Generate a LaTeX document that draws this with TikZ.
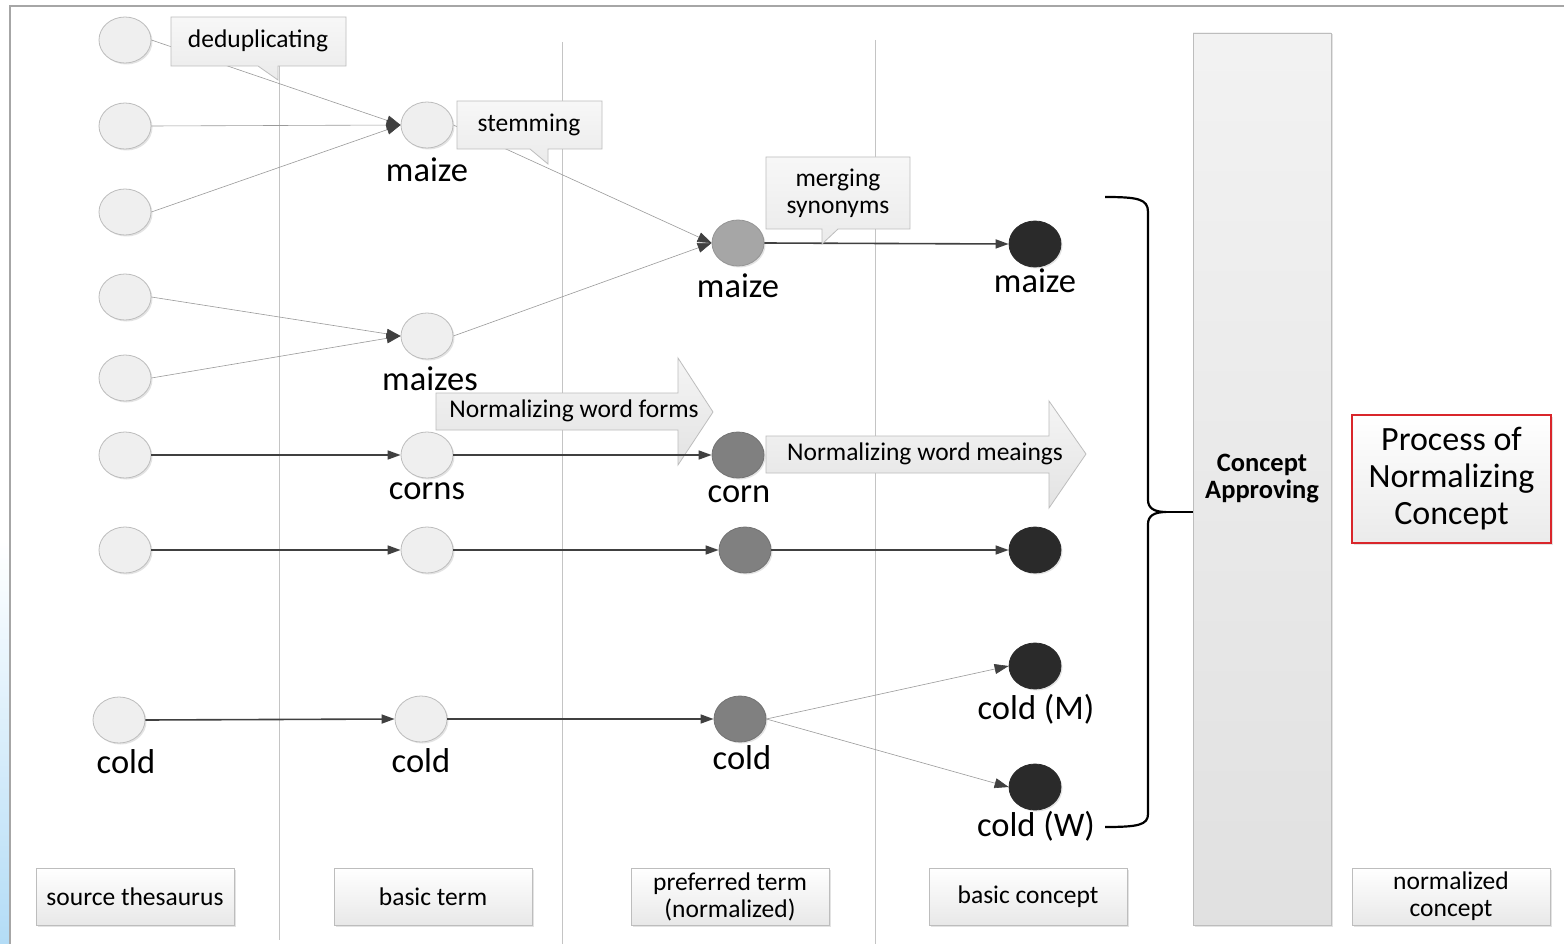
\documentclass[tikz,border=0pt]{standalone}
\usepackage{fontspec}
\setmainfont{Carlito}
\usetikzlibrary{shapes.geometric,arrows.meta,shadows}

\definecolor{framegray}{HTML}{A6A6A6}
\definecolor{sepgray}{HTML}{C4C4C4}
\definecolor{boxborder}{HTML}{BDBDBD}
\definecolor{edgedark}{HTML}{404040}
\definecolor{thinline}{HTML}{9A9A9A}
\definecolor{termfill}{HTML}{EFEFEF}
\definecolor{prefA}{HTML}{A6A6A6}
\definecolor{prefB}{HTML}{808080}
\definecolor{conceptfill}{HTML}{2A2A2A}
\definecolor{redborder}{HTML}{D9262B}
\definecolor{edgeblue}{HTML}{B3DCF6}

\tikzset{
  softshadow/.style={drop shadow={opacity=0.22,shadow xshift=1.5pt,shadow yshift=-1.5pt}},
  termnode/.style={ellipse,minimum width=52pt,minimum height=46pt,inner sep=0pt,
    fill=termfill,draw=boxborder,line width=0.8pt,softshadow},
  prefnode/.style={termnode,fill=prefB,draw=prefB!90!black},
  prefnodelight/.style={termnode,fill=prefA,draw=prefA!90!black},
  conceptnode/.style={termnode,fill=conceptfill,draw=conceptfill},
  wordlabel/.style={inner sep=0pt,font=\fontsize{34.5}{39}\selectfont},
  thinedge/.style={draw=thinline,line width=0.6pt,
    -{Triangle[length=14pt,width=10pt,color=edgedark]}},
  thickedge/.style={draw=edgedark,line width=1.6pt,
    -{Triangle[length=13pt,width=9pt]}},
  calloutshape/.style={draw=boxborder,line width=0.8pt,top color=white!97!black,bottom color=white!92!black},
  callouttext/.style={inner sep=0pt,align=center,font=\fontsize{25.5}{27}\selectfont},
  bigarrow/.style={draw=boxborder,line width=0.8pt,top color=white!96!black,bottom color=white!89!black},
  colbox/.style={draw=boxborder,line width=0.8pt,top color=white,bottom color=white!91!black,
    minimum width=198pt,minimum height=57pt,inner sep=0pt,align=center,
    font=\fontsize{25.5}{27}\selectfont,softshadow},
  separator/.style={draw=sepgray,line width=0.7pt},
}

\begin{document}
\begin{tikzpicture}[x=1pt,y=-1pt]
\useasboundingbox (0,0) rectangle (1564,944);
\fill[white] (0,0) rectangle (1564,944);

% blue fade on the left margin
\shade[top color=white,bottom color=edgeblue] (0,540) rectangle (9,944);

% frame
\draw[framegray,line width=1.3pt] (10,944) -- (10,6) -- (1564,6);

% column separators
\draw[separator] (279,40) -- (279,940);
\draw[separator] (562,42) -- (562,944);
\draw[separator] (875,40) -- (875,944);

% process arrows (behind the term connectors)
\draw[bigarrow] (436,393) -- (678,393) -- (678,358) -- (713,412) -- (678,465) -- (678,430) -- (436,430) -- cycle;
\node[callouttext] (formsarrow) at (574,411) {Normalizing word forms};
\draw[bigarrow] (766,436) -- (1049,436) -- (1049,401) -- (1086,454) -- (1049,508) -- (1049,473) -- (766,473) -- cycle;
\node[callouttext] (meaningsarrow) at (925,454) {Normalizing word meaings};

% source thesaurus terms
\node[termnode] (s1) at (125,40) {};
\node[termnode] (s2) at (125,126) {};
\node[termnode] (s3) at (125,212) {};
\node[termnode] (s4) at (125,297) {};
\node[termnode] (s5) at (125,378) {};
\node[termnode] (s6) at (125,455) {};
\node[termnode] (s7) at (125,550) {};
\node[termnode] (s8) at (119,720) {};

% basic terms
\node[termnode] (b1) at (427,125) {};
\node[termnode] (b2) at (427,336) {};
\node[termnode] (b3) at (427,455) {};
\node[termnode] (b4) at (427,550) {};
\node[termnode] (b5) at (421,719) {};

% preferred terms
\node[prefnodelight] (p1) at (738,243) {};
\node[prefnode] (p2) at (738,455) {};
\node[prefnode] (p3) at (745,550) {};
\node[prefnode] (p4) at (740,719) {};

% basic concepts
\node[conceptnode] (c1) at (1035,244) {};
\node[conceptnode] (c2) at (1035,550) {};
\node[conceptnode] (c3) at (1035,666) {};
\node[conceptnode] (c4) at (1035,787) {};

% term labels
\node[wordlabel] (lb1) at (427,170) {maize};
\node[wordlabel] (lb2) at (430,379) {maizes};
\node[wordlabel] (lb3) at (427,491) {corns};
\node[wordlabel] (ls8) at (126,762) {cold};
\node[wordlabel] (lb5) at (421,761) {cold};
\node[wordlabel] (lp1) at (738,286) {maize};
\node[wordlabel] (lp2) at (739,494) {corn};
\node[wordlabel] (lp4) at (742,758) {cold};
\node[wordlabel] (lc1) at (1035,281) {maize};
\node[wordlabel] (lc3) at (1036,709) {cold (M)};
\node[wordlabel] (lc4) at (1036,826) {cold (W)};

% connectors
\draw[thinedge] (s1.east) -- (b1.west);
\draw[thinedge] (s2.east) -- (b1.west);
\draw[thinedge] (s3.east) -- (b1.west);
\draw[thinedge] (s4.east) -- (b2.west);
\draw[thinedge] (s5.east) -- (b2.west);
\draw[thinedge] (b1.east) -- (p1.west);
\draw[thinedge] (b2.east) -- (p1.west);
\draw[thickedge] (p1.east) -- (c1.west);
\draw[thickedge] (s6.east) -- (b3.west);
\draw[thickedge] (b3.east) -- (p2.west);
\draw[thickedge] (s7.east) -- (b4.west);
\draw[thickedge] (b4.east) -- (p3.west);
\draw[thickedge] (p3.east) -- (c2.west);
\draw[thickedge] (s8.east) -- (b5.west);
\draw[thickedge] (b5.east) -- (p4.west);
\draw[thinedge] (p4.east) -- (c3.west);
\draw[thinedge] (p4.east) -- (c4.west);

% callouts
\draw[calloutshape] (171,17) -- (346,17) -- (346,66) -- (278,66) -- (278,80) -- (258,66) -- (171,66) -- cycle;
\node[callouttext] (dedup) at (258,41) {deduplicating};
\draw[calloutshape] (457,101) -- (602,101) -- (602,149) -- (548,149) -- (548,164) -- (530,149) -- (457,149) -- cycle;
\node[callouttext] (stem) at (529,125) {stemming};
\draw[calloutshape] (766,157) -- (910,157) -- (910,229) -- (838,229) -- (822,244) -- (822,229) -- (766,229) -- cycle;
\node[callouttext] (merge) at (838,193) {merging\\synonyms};

% concept approving column
\node[draw=boxborder,line width=0.8pt,top color=white!95!black,bottom color=white!88!black,
  minimum width=138pt,minimum height=892pt,inner sep=0pt,softshadow,align=center,
  font=\fontsize{26.5}{27}\selectfont\bfseries] (approve) at (1262,479) {Concept\\Approving};

% brace gathering the basic concepts
\draw[black,line width=2.2pt] (1105,197) .. controls (1138,197) and (1148,199) .. (1148,212)
  -- (1148,500) .. controls (1148,508) and (1154,512) .. (1166,512)
  .. controls (1154,512) and (1148,516) .. (1148,524)
  -- (1148,814) .. controls (1148,825) and (1138,827) .. (1105,827);
\draw[black,line width=2.2pt] (1164,512) -- (approve.west |- 0,512);

% summary box
\node[draw=redborder,line width=1.5pt,top color=white,bottom color=white!92!black,
  minimum width=199pt,minimum height=128pt,inner sep=0pt,align=center,softshadow,
  font=\fontsize{34}{37}\selectfont] (process) at (1451.5,479) {Process of\\Normalizing\\Concept};

% column captions
\node[colbox] (capsource) at (135,896.5) {source thesaurus};
\node[colbox] (capbasic) at (433,896.5) {basic term};
\node[colbox] (cappref) at (730,896.5) {preferred term\\(normalized)};
\node[colbox] (capconcept) at (1028,896.5) {basic concept};
\node[colbox] (capnorm) at (1451,896.5) {normalized\\concept};
\end{tikzpicture}
\end{document}
